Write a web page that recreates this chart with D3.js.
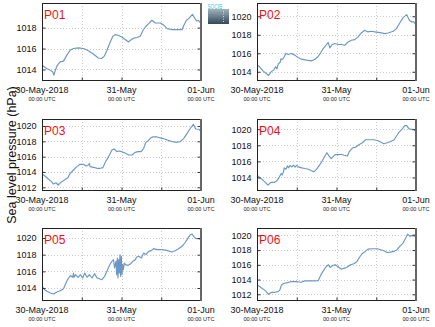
<!DOCTYPE html>
<html><head><meta charset="utf-8">
<script src="https://cdn.jsdelivr.net/npm/d3@7"></script>
<style>html,body{margin:0;padding:0;background:#fff;}svg{display:block;}</style>
</head><body><svg id="c" width="435" height="327"></svg>
<script>
// ---- data (hours since 30-May-2018 00:00 UTC, pressure hPa) ----
const panelNames = ["P01","P02","P03","P04","P05","P06"];
const p01 = [[0,1014.41],[1.4,1014.1],[2.4,1013.94],[3.2,1013.78],[3.6,1013.46],[4,1013.9],[4.6,1014.4],[5.5,1014.73],[6.5,1014.8],[7.5,1015.37],[8.5,1015.84],[9.5,1016.0],[11,1016.06],[12.5,1016.0],[14,1015.78],[15.6,1015.46],[17,1015.1],[18,1015.05],[18.8,1015.27],[19.6,1015.84],[20.6,1016.63],[21.4,1017.17],[22.1,1017.33],[23,1017.27],[24.1,1017.1],[25.1,1016.86],[26.1,1016.63],[26.7,1016.8],[27.7,1017.0],[28.7,1017.05],[29.7,1017.2],[30.5,1017.75],[31.2,1018.06],[32.2,1018.38],[33.2,1018.7],[34.2,1018.44],[35.8,1018.44],[36.8,1018.22],[37.8,1017.9],[39.3,1017.8],[40.8,1017.8],[42.3,1017.8],[42.8,1018.2],[43.6,1018.7],[44.3,1018.86],[45.4,1019.27],[45.9,1019.0],[46.7,1018.63],[47.2,1018.7],[48,1018.4]];
const p02 = [[0,1014.72],[0.8,1014.54],[1.8,1014.1],[2.8,1013.82],[3.5,1013.6],[4.3,1014.0],[5,1014.18],[5.6,1014.54],[6,1014.3],[6.4,1014.83],[7.1,1015.08],[7.2,1015.4],[7.7,1015.33],[8.2,1015.6],[8.7,1015.98],[9.4,1015.87],[10.4,1015.98],[11.4,1015.8],[12.4,1015.54],[13.4,1015.36],[14.9,1015.26],[16.4,1015.18],[17.4,1015.33],[18.4,1015.62],[19.2,1016.05],[20,1016.51],[21,1016.95],[21.5,1017.16],[22,1016.58],[22.7,1016.95],[23.5,1017.05],[24.5,1016.95],[25.5,1016.95],[26.5,1016.87],[27.5,1017.23],[28.5,1017.41],[29.5,1017.48],[30.5,1017.77],[31.5,1018.2],[32.5,1018.49],[33.5,1018.31],[34.5,1018.38],[35.6,1018.31],[37.1,1018.24],[38.6,1018.13],[39.6,1018.2],[41.1,1018.38],[42.1,1018.67],[43.1,1019.28],[44.1,1019.86],[45.2,1020.18],[46,1019.57],[46.7,1019.39],[47.4,1019.39],[48,1019.03]];
const p03 = [[0,1013.74],[0.9,1013.48],[1.9,1013.09],[2.9,1012.74],[3.4,1012.43],[4.2,1012.6],[4.9,1012.3],[5.7,1012.65],[6.5,1012.87],[7.2,1013.09],[7.8,1013.26],[8.5,1013.83],[9.5,1014.26],[10.5,1014.7],[11.5,1015.0],[12.5,1015.0],[13.3,1014.78],[14,1014.91],[14.3,1015.1],[14.5,1014.7],[15.6,1014.6],[16.6,1014.48],[17.6,1014.48],[18.4,1014.57],[19.1,1015.26],[20.1,1016.0],[21.1,1016.87],[21.8,1017.0],[22.6,1016.65],[23.4,1016.74],[24.1,1016.65],[25.2,1016.43],[26.2,1016.22],[27.2,1016.22],[28,1016.52],[28.9,1016.65],[29.9,1016.65],[30.7,1017.09],[31.3,1017.83],[32,1018.04],[32.7,1018.39],[33.5,1018.6],[34.7,1018.57],[36.3,1018.39],[37.8,1018.17],[39.3,1017.96],[40.8,1017.87],[41.8,1017.96],[42.8,1018.39],[43.8,1019.04],[44.8,1019.7],[45.7,1020.22],[46.4,1019.61],[47.4,1019.57],[48,1019.26]];
const p04 = [[0,1014.29],[0.8,1014.0],[1.8,1013.68],[2.8,1013.27],[3.3,1013.06],[4.2,1013.39],[5.2,1013.39],[5.9,1013.55],[6.6,1013.96],[7.3,1014.5],[7.6,1014.3],[8,1014.7],[8.2,1015.2],[8.7,1015.03],[9.2,1015.45],[9.5,1015.2],[10,1015.5],[10.5,1015.32],[11,1015.55],[11.5,1015.3],[12,1015.5],[12.5,1015.32],[13.5,1015.2],[14.5,1015.11],[15.5,1015.03],[16.5,1014.83],[17.2,1014.7],[18,1015.03],[18.7,1015.44],[19.5,1015.93],[20.5,1016.67],[21.1,1017.08],[21.6,1016.76],[22.4,1016.34],[22.9,1016.55],[23.6,1016.84],[24.6,1016.84],[25.3,1016.88],[26.3,1016.76],[27.3,1016.67],[27.8,1017.17],[28.8,1017.66],[29.8,1017.78],[30.8,1018.07],[31.8,1018.32],[32.8,1018.69],[33.8,1018.69],[35.3,1018.69],[36.3,1018.6],[37.3,1018.4],[38.3,1018.19],[39.3,1018.32],[40.4,1018.48],[41.4,1018.69],[42.2,1019.22],[42.9,1019.63],[43.9,1020.04],[44.6,1020.45],[45.2,1020.45],[45.9,1020.04],[47.4,1019.96],[48,1019.71]];
const p05 = [[0,1014.2],[0.8,1013.8],[1.5,1013.6],[2.5,1013.4],[3.5,1013.28],[4.5,1013.52],[5.5,1013.68],[6.5,1013.92],[7,1014.4],[7.7,1015.0],[8.6,1015.48],[9.3,1015.28],[9.5,1015.8],[9.7,1015.3],[10.1,1015.6],[10.9,1015.28],[11.6,1015.6],[12.3,1015.2],[12.9,1015.8],[13.6,1015.28],[14.3,1015.6],[15.1,1015.2],[15.9,1015.72],[16.6,1015.2],[17.3,1015.12],[18.1,1015.0],[18.9,1015.4],[19.6,1016.0],[20.1,1016.48],[20.6,1016.88],[21.1,1017.2],[21.6,1017.4],[21.9,1016.4],[22.33,1017.2],[22.54,1015.6],[22.74,1017.6],[22.94,1015.2],[23.14,1017.4],[23.34,1015.8],[23.54,1018.0],[23.74,1015.4],[23.94,1017.8],[24.15,1015.6],[24.35,1016.8],[24.55,1016.2],[24.85,1017.0],[25.2,1016.8],[26,1016.72],[26.7,1016.88],[27.4,1017.2],[28.2,1017.4],[28.5,1017.7],[29.2,1017.8],[30,1017.6],[30.7,1018.2],[31.4,1018.0],[32.2,1018.4],[33,1018.48],[33.7,1018.72],[34.7,1018.6],[36.2,1018.6],[37.7,1018.52],[39.2,1018.32],[40.2,1018.48],[41.2,1018.72],[42.3,1019.0],[43.1,1019.4],[43.8,1019.8],[44.6,1020.32],[45.3,1020.48],[45.8,1020.2],[46.5,1019.92],[47.3,1019.92],[48,1019.8]];
const p06 = [[0,1013.27],[0.8,1013.05],[1.8,1012.73],[2.8,1012.36],[3.5,1012.0],[4.4,1012.27],[5.4,1012.27],[6.4,1012.36],[6.9,1012.59],[7.4,1013.27],[8.2,1013.5],[9.2,1013.59],[10.4,1013.73],[11.9,1013.73],[13.3,1013.64],[14.5,1013.82],[16,1013.82],[17.5,1013.82],[18.5,1013.86],[19.3,1014.64],[20,1015.18],[20.9,1015.77],[21.6,1016.0],[22.1,1015.64],[22.8,1015.91],[23.6,1016.0],[24.4,1015.77],[25.4,1015.41],[26.4,1015.55],[27.1,1015.64],[28.2,1016.0],[29.2,1016.14],[30.2,1016.45],[30.9,1017.0],[31.7,1017.5],[32.7,1017.82],[33.5,1018.14],[34.7,1018.18],[36.3,1018.18],[37.3,1018.05],[38.3,1017.91],[39.3,1017.68],[40.3,1017.73],[41.3,1017.82],[42.3,1018.05],[43.1,1018.5],[44.1,1018.95],[44.9,1019.64],[45.5,1020.18],[46.2,1019.86],[46.9,1020.0],[47.4,1020.09],[48,1019.86]];
const series = [p01,p02,p03,p04,p05,p06];
const yLimits = [[1012.9,1020.35],[1013.0,1021.44],[1011.52,1020.91],[1012.32,1021.27],[1012.44,1021.2],[1011.09,1021.0]];
const yTickValues = [[1014,1016,1018],[1014,1016,1018,1020],[1012,1014,1016,1018,1020],[1014,1016,1018,1020],[1014,1016,1018,1020],[1012,1014,1016,1018,1020]];
const xTickLabels = ["30-May-2018","31-May","01-Jun"];
const xTickSub = "00:00 UTC";
const startTime = Date.UTC(2018,4,30,0,0);
const endTime = Date.UTC(2018,5,1,0,0);
const yLabel = "Sea level pressure (hPa)";

// ---- layout ----
const colX = [42, 257], plotW = 159;
const rowY = [[3,81],[119,191],[228,301]];
const FONT = "'Liberation Sans', Arial, Helvetica, sans-serif";
const svg = d3.select("#c");

const tickDates = [0,24,48].map(h => new Date(startTime + h*3600e3));
const gridDates = [12,24,36].map(h => new Date(startTime + h*3600e3));

series.forEach((data, i) => {
  const col = i % 2, row = Math.floor(i/2);
  const x0 = colX[col], y0 = rowY[row][0], y1 = rowY[row][1];
  const x = d3.scaleUtc().domain([new Date(startTime), new Date(endTime)]).range([x0, x0 + plotW]);
  const y = d3.scaleLinear().domain(yLimits[i]).range([y1, y0]);
  const g = svg.append("g");
  const clipId = "clip" + i;
  g.append("clipPath").attr("id", clipId).append("rect")
    .attr("x", x0).attr("y", y0).attr("width", plotW).attr("height", y1 - y0);

  // grid
  g.selectAll(".hg").data(yTickValues[i]).join("line")
    .attr("x1", x0).attr("x2", x0 + plotW)
    .attr("y1", d => Math.round(y(d)) + 0.5).attr("y2", d => Math.round(y(d)) + 0.5)
    .attr("stroke", "#bdbdbd").attr("stroke-width", 0.8).attr("stroke-dasharray", "1,2");
  g.selectAll(".vg").data(gridDates).join("line")
    .attr("x1", d => Math.round(x(d)) + 0.5).attr("x2", d => Math.round(x(d)) + 0.5)
    .attr("y1", y0).attr("y2", y1)
    .attr("stroke", "#bdbdbd").attr("stroke-width", 0.8).attr("stroke-dasharray", "1,2");

  // line
  const line = d3.line()
    .x(d => x(new Date(startTime + d[0]*3600e3)))
    .y(d => y(d[1]));
  g.append("path").datum(data).attr("clip-path", `url(#${clipId})`)
    .attr("d", line).attr("fill", "none")
    .attr("stroke", "#6c97c3").attr("stroke-width", 1.15).attr("stroke-linejoin", "round");

  // axes (ticks inward)
  const yAxis = d3.axisLeft(y).tickValues(yTickValues[i]).tickSize(-3).tickPadding(6).tickFormat(d3.format("d"));
  const ya = g.append("g").attr("transform", `translate(${x0 + 0.5},0)`).call(yAxis);
  ya.select(".domain").remove();
  ya.selectAll("text").attr("font-family", FONT).attr("font-size", 9).attr("fill", "#111");
  ya.selectAll("line").attr("stroke", "#333");
  const yAxisR = d3.axisRight(y).tickValues(yTickValues[i]).tickSize(-3).tickFormat("");
  const yr = g.append("g").attr("transform", `translate(${x0 + plotW - 0.5},0)`).call(yAxisR);
  yr.select(".domain").remove(); yr.selectAll("line").attr("stroke", "#333");

  const xAxis = d3.axisBottom(x).tickValues(gridDates).tickSize(-3).tickFormat("");
  const xa = g.append("g").attr("transform", `translate(0,${y1 - 0.5})`).call(xAxis);
  xa.select(".domain").remove(); xa.selectAll("line").attr("stroke", "#333");

  // x labels
  g.selectAll(".xl").data(tickDates).join("text")
    .attr("x", d => x(d)).attr("y", y1 + 11.5)
    .attr("text-anchor", "middle").attr("font-family", FONT).attr("font-size", 9).attr("fill", "#111")
    .text((d, k) => xTickLabels[k]);
  g.selectAll(".xs").data(tickDates).join("text")
    .attr("x", d => x(d)).attr("y", y1 + 19.5)
    .attr("text-anchor", "middle").attr("font-family", FONT).attr("font-size", 5.6).attr("fill", "#222")
    .text(xTickSub);

  // frame
  g.append("rect").attr("x", x0 + 0.5).attr("y", y0 + 0.5).attr("width", plotW - 1).attr("height", y1 - y0 - 1)
    .attr("fill", "none").attr("stroke", "#222").attr("stroke-width", 1);
  g.append("line").attr("x1", x0 + plotW).attr("x2", x0 + plotW).attr("y1", y0).attr("y2", y1)
    .attr("stroke", "#666").attr("stroke-width", 2);

  // panel name
  g.append("text").attr("x", x0 + 2).attr("y", y0 + 16)
    .attr("font-family", FONT).attr("font-size", 12).attr("fill", "#ee1111")
    .text(panelNames[i]);
});

// y label
svg.append("text").attr("transform", "translate(16,155) rotate(-90)")
  .attr("text-anchor", "middle").attr("font-family", FONT).attr("font-size", 12.5).attr("fill", "#111")
  .text(yLabel);

// logo
const defs = svg.append("defs");
const grad = defs.append("linearGradient").attr("id", "lg").attr("x1", 0).attr("x2", 0).attr("y1", 0).attr("y2", 1);
grad.append("stop").attr("offset", "0%").attr("stop-color", "#9fb3bd");
grad.append("stop").attr("offset", "100%").attr("stop-color", "#34495a");
svg.append("rect").attr("x", 208).attr("y", 9).attr("width", 21).attr("height", 15).attr("fill", "url(#lg)");
svg.append("line").attr("x1", 223.5).attr("x2", 223.5).attr("y1", 11).attr("y2", 22)
  .attr("stroke", "#e8f0f4").attr("stroke-width", 0.8).attr("stroke-dasharray", "1,1.5");
svg.append("text").attr("x", 207.5).attr("y", 8.5).attr("font-family", FONT).attr("font-size", 6.5)
  .attr("textLength", 14.5).attr("lengthAdjust", "spacingAndGlyphs")
  .attr("fill", "#3fbfd4").text("SOCIB");
</script></body></html>
